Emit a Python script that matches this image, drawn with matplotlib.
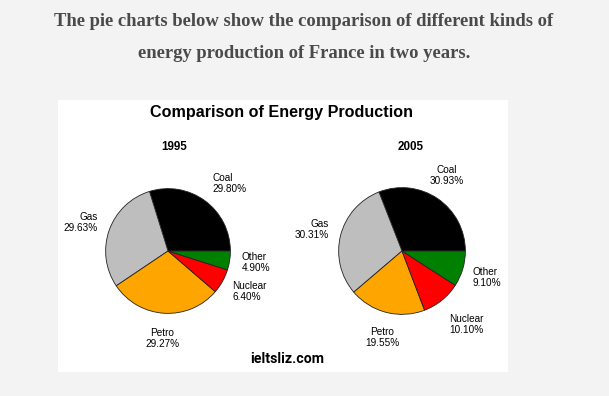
import matplotlib.pyplot as plt
from matplotlib.patches import Rectangle

# data
sources = ['Coal', 'Gas', 'Petro', 'Nuclear', 'Other']
share_1995 = [29.80, 29.63, 29.27, 6.40, 4.90]
share_2005 = [30.93, 30.31, 19.55, 10.10, 9.10]
years = ['1995', '2005']
colors = ['#000000', '#bebebe', '#ffa500', '#ff0000', '#008000']

W, H = 609, 396
fig = plt.figure(figsize=(W / 100, H / 100), dpi=100, facecolor='#f3f3f3')

# white chart panel (behind the pies)
fig.patches.append(Rectangle((58 / W, 1 - 372 / H), 450 / W, 272 / H,
                             transform=fig.transFigure, facecolor='white',
                             edgecolor='none', zorder=-10))

# header text
hdr = dict(family='Liberation Serif', fontweight='bold', color='#4a4a4a',
           fontsize=13.4, ha='center', va='center')
fig.text(304 / W, 1 - 22 / H,
         'The pie charts below show the comparison of different kinds of', **hdr)
fig.text(304 / W, 1 - 54 / H,
         'energy production of France in two years.', **hdr)

sans = 'Liberation Sans'
fig.text(282 / W, 1 - 113 / H, 'Comparison of Energy Production',
         family=sans, fontweight='bold', fontsize=11.6, ha='center', va='center')
fig.text(287 / W, 1 - 359 / H, 'ieltsliz.com', family='Roboto',
         fontweight='bold', fontsize=10.2, ha='center', va='center')

# pie centres / radius in pixels, and label placement (in pie radii)
pies = [(168, 251, 63), (402, 251, 64)]
title_pos = [(174, 147), (411, 147)]
label_pos = [
    [(0.714, 1.08, 'left'), (-1.127, 0.46, 'right'), (-0.095, -1.40, 'center'),
     (1.03, -0.65, 'left'), (1.175, -0.19, 'left')],
    [(0.70, 1.19, 'center'), (-1.156, 0.34, 'right'), (-0.31, -1.36, 'center'),
     (1.02, -1.16, 'center'), (1.11, -0.42, 'left')],
]

for (cx, cy, r), shares, yr, lp, tp in zip(pies, [share_1995, share_2005],
                                           years, label_pos, title_pos):
    ax = fig.add_axes([(cx - r) / W, 1 - (cy + r) / H, 2 * r / W, 2 * r / H])
    ax.pie(shares, colors=colors, startangle=0, counterclock=True,
           wedgeprops=dict(edgecolor='#222222', linewidth=0.6))
    ax.set_xlim(-1.01, 1.01)
    ax.set_ylim(-1.01, 1.01)
    ax.axis('off')
    for name, v, (lx, ly, ha) in zip(sources, shares, lp):
        ax.text(lx, ly, f'{name}\n{v:.2f}%', ha=ha, va='center',
                family=sans, fontsize=7.2, multialignment=ha,
                linespacing=1.15, clip_on=False)
    fig.text(tp[0] / W, 1 - tp[1] / H, yr, family=sans, fontweight='bold',
             fontsize=8.4, ha='center', va='center')

fig.savefig('out.png', dpi=100, facecolor=fig.get_facecolor())
